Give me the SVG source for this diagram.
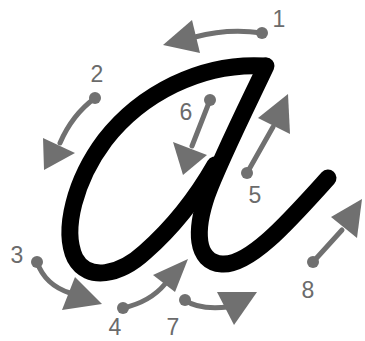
<svg xmlns="http://www.w3.org/2000/svg" width="365" height="341" viewBox="0 0 365 341">
<style>
.stroke{fill:none;stroke:#000;stroke-width:17;stroke-linecap:round;stroke-linejoin:round}
.ln{fill:none;stroke:#707070;stroke-width:5;stroke-linecap:round}
.hd{fill:#707070}
.dot{fill:#707070}
.lbl{font-family:"Liberation Sans",Arial,sans-serif;font-size:23px;fill:#6b6b6b;text-anchor:middle}
</style>
<rect width="365" height="341" fill="#fff"/>
<g id="letter-a">
<path class="stroke" d="M265,66 C200,62 140,95 105,140 C75,180 62,230 75,258 C88,282 120,275 145,252 C170,230 195,200 215,165"/>
<path class="stroke" d="M266,66 C250,100 220,160 207,195 C195,230 195,262 222,264 C250,266 290,220 328,178"/>
</g>
<g id="connectors">
<g id="arrow1"><path class="ln" d="M262,33 Q228,28 195,37"/><polygon class="hd" points="163,45 192,20 200,53"/><circle class="dot" cx="262" cy="33" r="6"/></g>
<g id="arrow2"><path class="ln" d="M95,98 Q72,115 60,143"/><polygon class="hd" points="44,170 43,138 75,153"/><circle class="dot" cx="95" cy="98" r="6"/></g>
<g id="arrow3"><path class="ln" d="M37,262 Q45,285 70,293"/><polygon class="hd" points="102,304 62,310 75,277"/><circle class="dot" cx="37" cy="262" r="6"/></g>
<g id="arrow4"><path class="ln" d="M123,308 Q150,302 165,284"/><polygon class="hd" points="188,259 153,275 175,292"/><circle class="dot" cx="123" cy="308" r="6"/></g>
<g id="arrow5"><path class="ln" d="M247,173 L273,127"/><polygon class="hd" points="288,94 258,118 290,134"/><circle class="dot" cx="247" cy="173" r="6"/></g>
<g id="arrow6"><path class="ln" d="M210,100 L192,146"/><polygon class="hd" points="183,175 173,142 207,155"/><circle class="dot" cx="210" cy="100" r="6"/></g>
<g id="arrow7"><path class="ln" d="M185,300 Q198,310 228,307"/><polygon class="hd" points="217,292 257,292 234,325"/><circle class="dot" cx="185" cy="300" r="6"/></g>
<g id="arrow8"><path class="ln" d="M313,262 L342,230"/><polygon class="hd" points="362,199 331,217 357,238"/><circle class="dot" cx="313" cy="262" r="6"/></g>
</g>
<g id="labels">
<text class="lbl" x="279" y="27">1</text>
<text class="lbl" x="97" y="82">2</text>
<text class="lbl" x="17" y="263">3</text>
<text class="lbl" x="115" y="335">4</text>
<text class="lbl" x="255" y="203">5</text>
<text class="lbl" x="186" y="120">6</text>
<text class="lbl" x="173" y="335">7</text>
<text class="lbl" x="308" y="298">8</text>
</g>
</svg>
